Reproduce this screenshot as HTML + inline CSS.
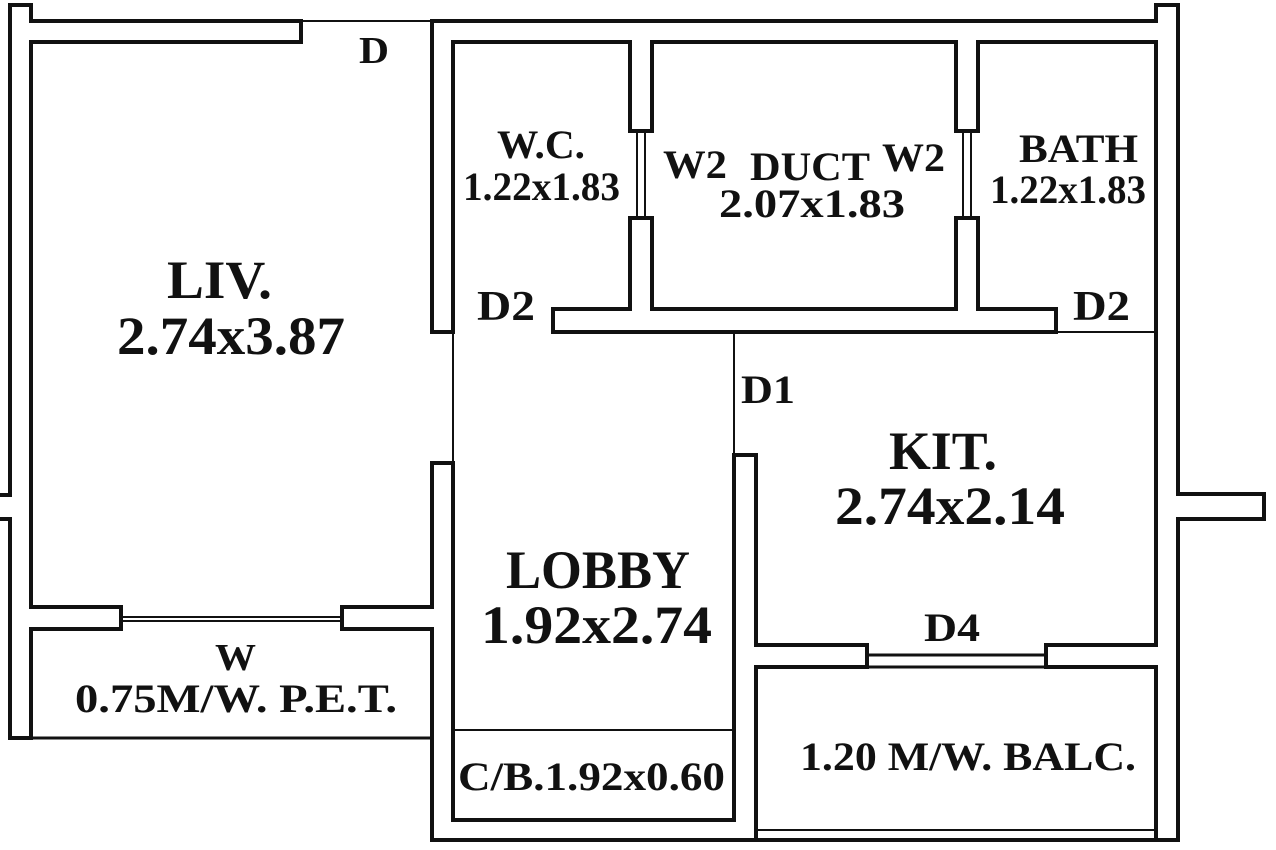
<!DOCTYPE html>
<html><head><meta charset="utf-8"><style>
html,body{margin:0;padding:0;background:#fff;width:1276px;height:850px;overflow:hidden}
svg{display:block}
text{font-family:"Liberation Serif",serif;font-weight:bold;fill:#111}
</style></head><body>
<svg width="1276" height="850" viewBox="0 0 1276 850" xmlns="http://www.w3.org/2000/svg">
<g fill="none" stroke="#111" stroke-width="4" stroke-linejoin="miter" stroke-linecap="square">
<!-- left outer wall -->
<polyline points="0,495 10,495 10,5 31,5 31,21 301,21 301,42 31,42 31,607 121,607"/>
<polyline points="0,519 10,519 10,738 31,738 31,629 121,629"/>
<line x1="121" y1="607" x2="121" y2="629"/>
<line x1="342" y1="607" x2="342" y2="629"/>
<polyline points="342,607 432,607 432,463 453,463"/>
<polyline points="342,629 432,629 432,840 1178,840"/>
<line x1="31" y1="738" x2="432" y2="738" stroke-width="3"/>
<!-- top right block -->
<polyline points="432,332 432,21 1156,21 1156,5 1178,5 1178,494 1264,494 1264,519 1178,519 1178,840 1156,840"/>
<!-- WC -->
<polyline points="553,332 553,309 630,309 630,218 652,218 652,309 956,309 956,218 978,218 978,309 1056,309 1056,332"/>
<polyline points="453,332 453,42 630,42 630,131 652,131 652,42 956,42 956,131 978,131 978,42 1156,42 1156,645 1046,645 1046,667 1156,667 1156,840"/>
<line x1="432" y1="332" x2="453" y2="332"/>
<line x1="553" y1="332" x2="1056" y2="332"/>
<!-- lobby -->
<polyline points="453,463 453,820 734,820 734,455 756,455 756,645 867,645 867,667 756,667 756,840"/>
<line x1="867" y1="655" x2="1046" y2="655" stroke-width="3"/>
<line x1="867" y1="667" x2="1046" y2="667" stroke-width="3"/>
</g>
<g stroke="#111" stroke-width="2" fill="none">
<line x1="301" y1="21" x2="432" y2="21"/>
<line x1="453" y1="332" x2="453" y2="463"/>
<line x1="734" y1="332" x2="734" y2="455"/>
<line x1="1056" y1="332" x2="1156" y2="332"/>
<line x1="453" y1="730" x2="734" y2="730"/>
<line x1="756" y1="830" x2="1156" y2="830"/>
<line x1="121" y1="617" x2="342" y2="617"/>
<line x1="121" y1="621" x2="342" y2="621"/>
<line x1="637" y1="131" x2="637" y2="218"/>
<line x1="645" y1="131" x2="645" y2="218"/>
<line x1="963" y1="131" x2="963" y2="218"/>
<line x1="971" y1="131" x2="971" y2="218"/>
</g>
<text x="359" y="63" font-size="38" textLength="30" lengthAdjust="spacingAndGlyphs">D</text>
<text x="497" y="158" font-size="40" textLength="88" lengthAdjust="spacingAndGlyphs">W.C.</text>
<text x="463" y="200" font-size="40" textLength="157" lengthAdjust="spacingAndGlyphs">1.22x1.83</text>
<text x="663" y="178" font-size="40" textLength="64" lengthAdjust="spacingAndGlyphs">W2</text>
<text x="750" y="180" font-size="40" textLength="120" lengthAdjust="spacingAndGlyphs">DUCT</text>
<text x="882" y="171" font-size="40" textLength="63" lengthAdjust="spacingAndGlyphs">W2</text>
<text x="719" y="217" font-size="40" textLength="186" lengthAdjust="spacingAndGlyphs">2.07x1.83</text>
<text x="1019" y="162" font-size="40" textLength="119" lengthAdjust="spacingAndGlyphs">BATH</text>
<text x="990" y="203" font-size="40" textLength="156" lengthAdjust="spacingAndGlyphs">1.22x1.83</text>
<text x="477" y="320" font-size="42" textLength="58" lengthAdjust="spacingAndGlyphs">D2</text>
<text x="1073" y="320" font-size="42" textLength="57" lengthAdjust="spacingAndGlyphs">D2</text>
<text x="167" y="298" font-size="54" textLength="105" lengthAdjust="spacingAndGlyphs">LIV.</text>
<text x="117" y="354" font-size="54" textLength="228" lengthAdjust="spacingAndGlyphs">2.74x3.87</text>
<text x="741" y="403" font-size="40" textLength="54" lengthAdjust="spacingAndGlyphs">D1</text>
<text x="889" y="469" font-size="54" textLength="108" lengthAdjust="spacingAndGlyphs">KIT.</text>
<text x="835" y="524" font-size="54" textLength="230" lengthAdjust="spacingAndGlyphs">2.74x2.14</text>
<text x="506" y="588" font-size="54" textLength="184" lengthAdjust="spacingAndGlyphs">LOBBY</text>
<text x="481" y="643" font-size="54" textLength="231" lengthAdjust="spacingAndGlyphs">1.92x2.74</text>
<text x="924" y="641" font-size="40" textLength="56" lengthAdjust="spacingAndGlyphs">D4</text>
<text x="215" y="670" font-size="38" textLength="41" lengthAdjust="spacingAndGlyphs">W</text>
<text x="75" y="712" font-size="40" textLength="322" lengthAdjust="spacingAndGlyphs">0.75M/W. P.E.T.</text>
<text x="458" y="790" font-size="40" textLength="267" lengthAdjust="spacingAndGlyphs">C/B.1.92x0.60</text>
<text x="800" y="770" font-size="40" textLength="336" lengthAdjust="spacingAndGlyphs">1.20 M/W. BALC.</text>
</svg>
</body></html>
